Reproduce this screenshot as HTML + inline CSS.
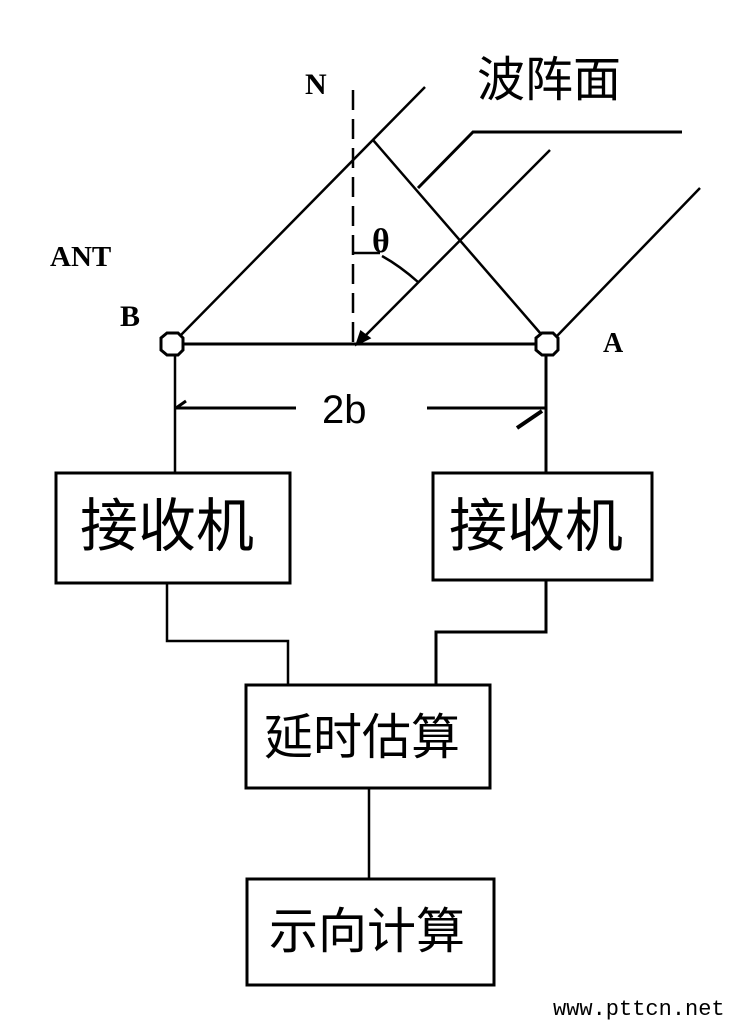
<!DOCTYPE html>
<html><head><meta charset="utf-8"><style>
html,body{margin:0;padding:0;background:#fff;}
svg{display:block;}
text{fill:#000;}
.cj{font-family:"Liberation Sans","Noto Sans CJK SC",sans-serif;}
</style></head><body>
<svg width="733" height="1024" viewBox="0 0 733 1024" xmlns="http://www.w3.org/2000/svg">
<g stroke="#000" fill="none" stroke-width="2.5">
 <line x1="353" y1="90" x2="353" y2="343" stroke-dasharray="20,9"/>
 <line x1="181" y1="344" x2="539" y2="344" stroke-width="3"/>
 <line x1="178" y1="338" x2="425" y2="87"/>
 <line x1="373" y1="140" x2="541" y2="334"/>
 <polyline points="418,188 473,132 682,132" stroke-width="3"/>
 <line x1="550" y1="150" x2="359" y2="342"/>
 <line x1="700" y1="188" x2="557" y2="336"/>
 <polygon points="357,344 361,332 369,338" fill="#000"/>
 <line x1="353" y1="253" x2="380" y2="253"/>
 <path d="M382,256 Q400,266 418,282"/>
 <polygon points="167,333 178,333 183,338 183,350 178,355 167,355 161,350 161,338" fill="#fff" stroke-width="3"/>
 <polygon points="542,333 553,333 558,338 558,350 553,355 542,355 536,350 536,338" fill="#fff" stroke-width="3"/>
 <line x1="175" y1="355" x2="175" y2="472"/>
 <line x1="546" y1="355" x2="546" y2="472" stroke-width="3"/>
 <line x1="175" y1="408" x2="296" y2="408" stroke-width="3"/>
 <line x1="427" y1="408" x2="546" y2="408" stroke-width="3"/>
 <line x1="176" y1="408" x2="186" y2="401" stroke-width="3"/>
 <line x1="517" y1="428" x2="542" y2="411" stroke-width="4"/>
 <rect x="56" y="473" width="234" height="110" stroke-width="3"/>
 <rect x="433" y="473" width="219" height="107" stroke-width="3"/>
 <rect x="246" y="685" width="244" height="103" stroke-width="3"/>
 <rect x="247" y="879" width="247" height="106" stroke-width="3"/>
 <polyline points="167,583 167,641 288,641 288,685"/>
 <polyline points="546,580 546,632 436,632 436,685" stroke-width="3"/>
 <line x1="369" y1="788" x2="369" y2="879"/>
</g>
<text x="305" y="94" font-family="Liberation Serif,serif" font-weight="bold" font-size="30">N</text>
<text x="477" y="96" class="cj" font-size="48">波阵面</text>
<text x="50" y="266" font-family="Liberation Serif,serif" font-weight="bold" font-size="29">ANT</text>
<text x="120" y="326" font-family="Liberation Serif,serif" font-weight="bold" font-size="30">B</text>
<text x="603" y="352" font-family="Liberation Serif,serif" font-weight="bold" font-size="28">A</text>
<text x="372" y="252" font-family="Liberation Serif,serif" font-weight="bold" font-size="34">θ</text>
<text x="322" y="423" font-family="Liberation Sans,sans-serif" font-size="40">2b</text>
<text x="80" y="546" class="cj" font-size="58">接收机</text>
<text x="449" y="546" class="cj" font-size="58">接收机</text>
<text x="264" y="754" class="cj" font-size="49">延时估算</text>
<text x="269" y="948" class="cj" font-size="49">示向计算</text>
<text x="553" y="1015" font-family="Liberation Mono,monospace" font-size="22">www.pttcn.net</text>
</svg>
</body></html>
